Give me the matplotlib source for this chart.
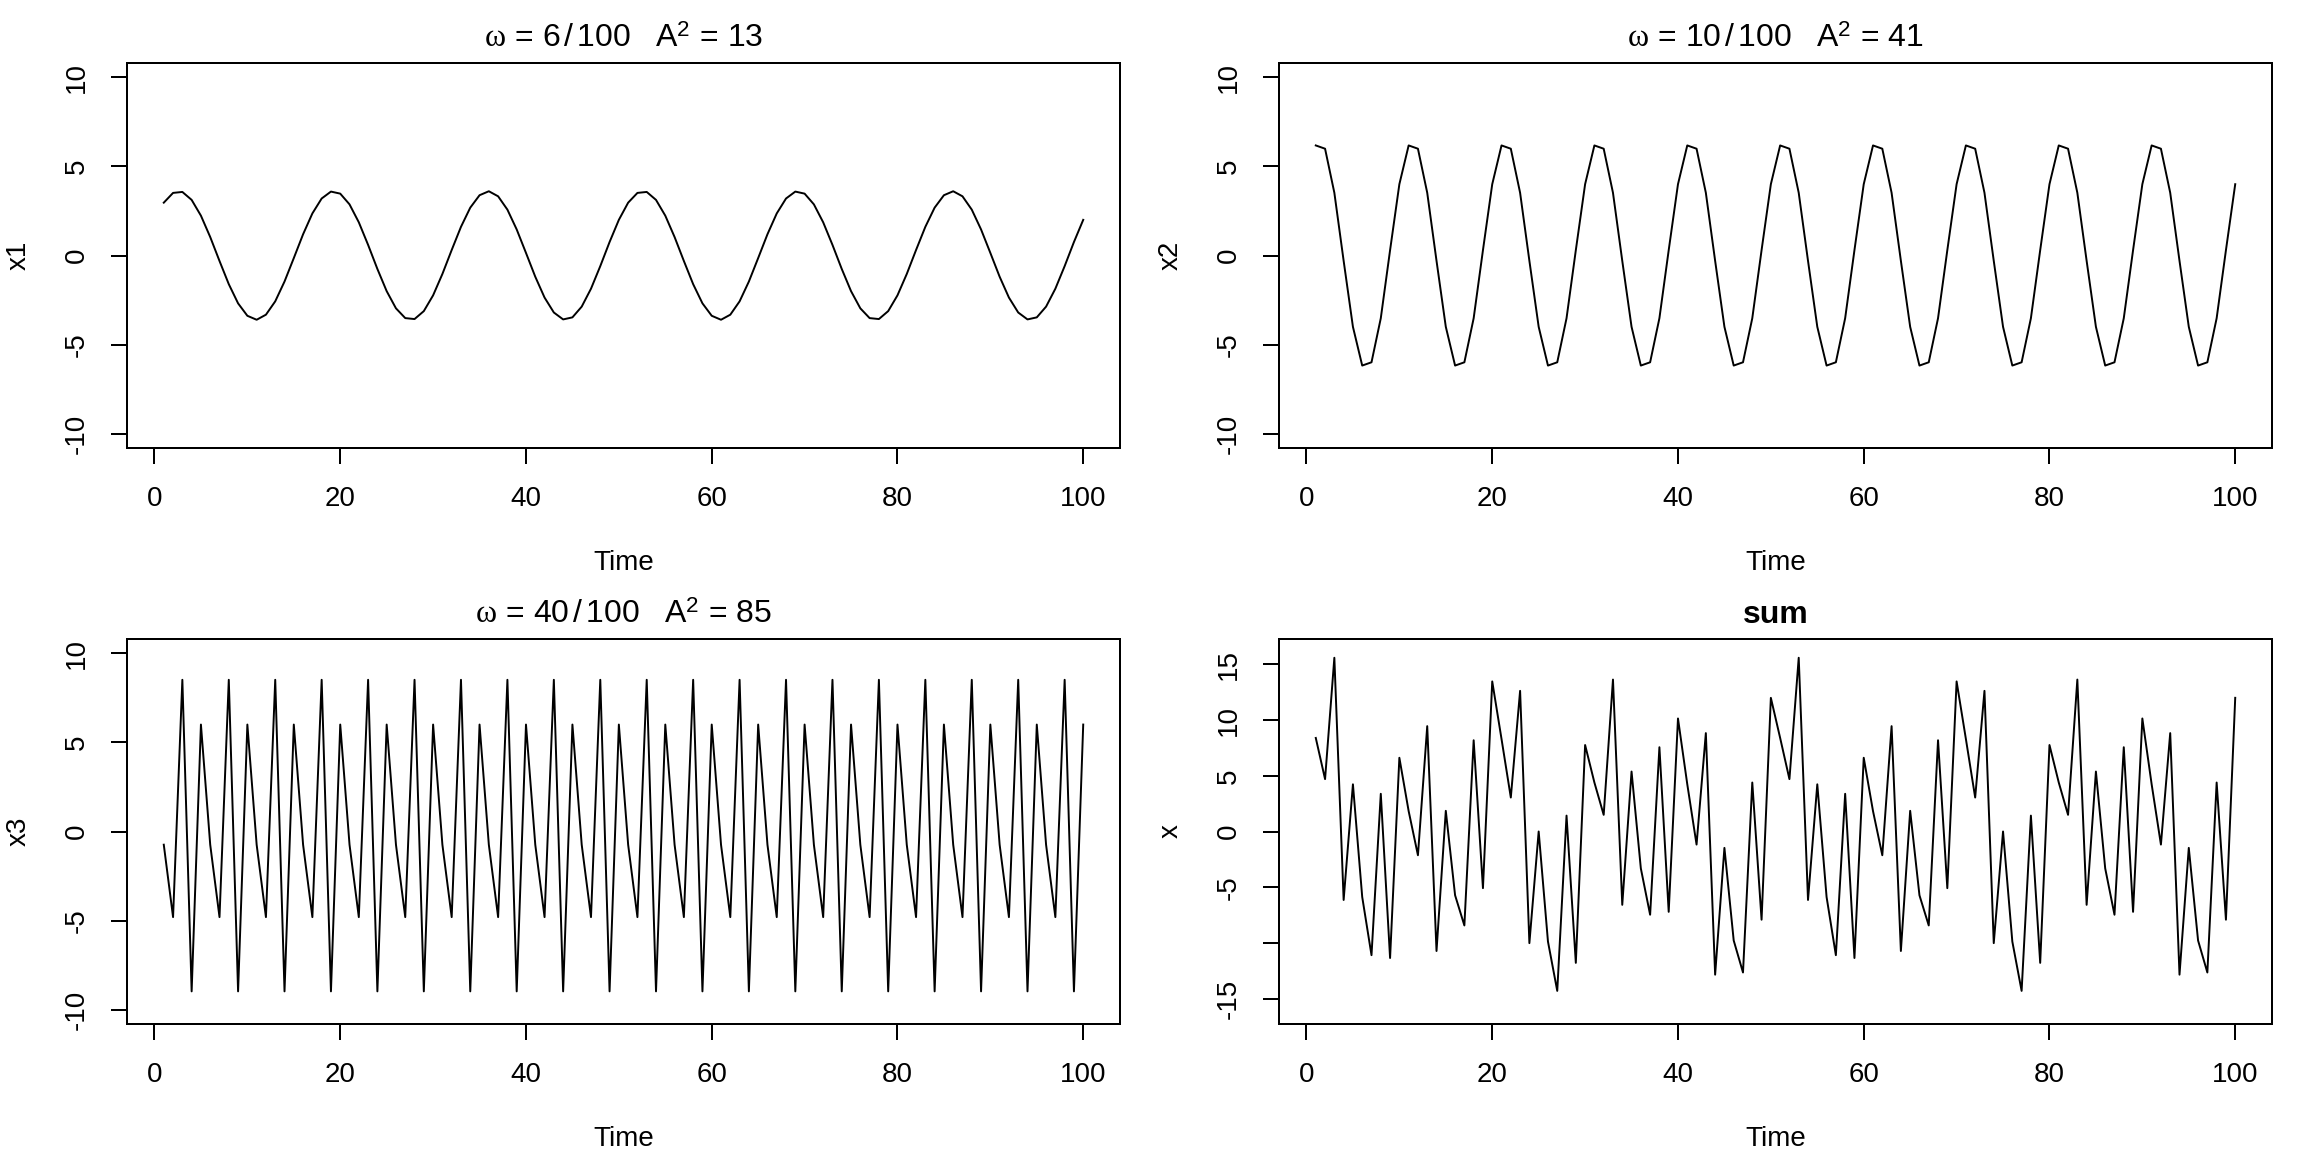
import matplotlib
matplotlib.use('Agg')
import matplotlib.pyplot as plt
import numpy as np

plt.rcParams['font.family'] = ['Liberation Sans', 'DejaVu Sans']
plt.rcParams['axes.unicode_minus'] = False
plt.rcParams['mathtext.fontset'] = 'custom'
plt.rcParams['mathtext.rm'] = 'Liberation Sans'
plt.rcParams['mathtext.it'] = 'Liberation Serif'
plt.rcParams['mathtext.bf'] = 'Liberation Sans:bold'

# ---------------- data ----------------
time = list(range(1, 101))

x1 = [2.964, 3.512, 3.566, 3.120, 2.235, 1.037, -0.307, -1.608, -2.684, -3.382,
      -3.605, -3.321, -2.573, -1.461, -0.145, 1.191, 2.360, 3.198, 3.586, 3.471,
      2.869, 1.863, 0.596, -0.755, -2.000, -2.964, -3.512, -3.566, -3.120, -2.235,
      -1.037, 0.307, 1.608, 2.684, 3.382, 3.605, 3.321, 2.573, 1.461, 0.145,
      -1.191, -2.360, -3.198, -3.586, -3.471, -2.869, -1.863, -0.596, 0.755, 2.000,
      2.964, 3.512, 3.566, 3.120, 2.235, 1.037, -0.307, -1.608, -2.684, -3.382,
      -3.605, -3.321, -2.573, -1.461, -0.145, 1.191, 2.360, 3.198, 3.586, 3.471,
      2.869, 1.863, 0.596, -0.755, -2.000, -2.964, -3.512, -3.566, -3.120, -2.235,
      -1.037, 0.307, 1.608, 2.684, 3.382, 3.605, 3.321, 2.573, 1.461, 0.145,
      -1.191, -2.360, -3.198, -3.586, -3.471, -2.869, -1.863, -0.596, 0.755, 2.000]

x2 = [6.175, 5.991, 3.519, -0.297, -4.000, -6.175, -5.991, -3.519, 0.297, 4.000,
      6.175, 5.991, 3.519, -0.297, -4.000, -6.175, -5.991, -3.519, 0.297, 4.000,
      6.175, 5.991, 3.519, -0.297, -4.000, -6.175, -5.991, -3.519, 0.297, 4.000,
      6.175, 5.991, 3.519, -0.297, -4.000, -6.175, -5.991, -3.519, 0.297, 4.000,
      6.175, 5.991, 3.519, -0.297, -4.000, -6.175, -5.991, -3.519, 0.297, 4.000,
      6.175, 5.991, 3.519, -0.297, -4.000, -6.175, -5.991, -3.519, 0.297, 4.000,
      6.175, 5.991, 3.519, -0.297, -4.000, -6.175, -5.991, -3.519, 0.297, 4.000,
      6.175, 5.991, 3.519, -0.297, -4.000, -6.175, -5.991, -3.519, 0.297, 4.000,
      6.175, 5.991, 3.519, -0.297, -4.000, -6.175, -5.991, -3.519, 0.297, 4.000,
      6.175, 5.991, 3.519, -0.297, -4.000, -6.175, -5.991, -3.519, 0.297, 4.000]

x3 = [-0.740, -4.803, 8.511, -8.969, 6.000, -0.740, -4.803, 8.511, -8.969, 6.000,
      -0.740, -4.803, 8.511, -8.969, 6.000, -0.740, -4.803, 8.511, -8.969, 6.000,
      -0.740, -4.803, 8.511, -8.969, 6.000, -0.740, -4.803, 8.511, -8.969, 6.000,
      -0.740, -4.803, 8.511, -8.969, 6.000, -0.740, -4.803, 8.511, -8.969, 6.000,
      -0.740, -4.803, 8.511, -8.969, 6.000, -0.740, -4.803, 8.511, -8.969, 6.000,
      -0.740, -4.803, 8.511, -8.969, 6.000, -0.740, -4.803, 8.511, -8.969, 6.000,
      -0.740, -4.803, 8.511, -8.969, 6.000, -0.740, -4.803, 8.511, -8.969, 6.000,
      -0.740, -4.803, 8.511, -8.969, 6.000, -0.740, -4.803, 8.511, -8.969, 6.000,
      -0.740, -4.803, 8.511, -8.969, 6.000, -0.740, -4.803, 8.511, -8.969, 6.000,
      -0.740, -4.803, 8.511, -8.969, 6.000, -0.740, -4.803, 8.511, -8.969, 6.000]

x = [8.399, 4.700, 15.596, -6.146, 4.235, -5.878, -11.101, 3.384, -11.356, 6.618,
     1.830, -2.133, 9.457, -10.727, 1.855, -5.724, -8.434, 8.190, -5.086, 13.471,
     8.304, 3.051, 12.626, -10.021, 0.000, -9.879, -14.306, 1.426, -11.792, 7.765,
     4.398, 1.495, 13.638, -6.582, 5.382, -3.310, -7.473, 7.565, -7.211, 10.145,
     4.244, -1.172, 8.832, -12.852, -1.471, -9.784, -12.657, 4.396, -7.917, 12.000,
     8.399, 4.700, 15.596, -6.146, 4.235, -5.878, -11.101, 3.384, -11.356, 6.618,
     1.830, -2.133, 9.457, -10.727, 1.855, -5.724, -8.434, 8.190, -5.086, 13.471,
     8.304, 3.051, 12.626, -10.021, 0.000, -9.879, -14.306, 1.426, -11.792, 7.765,
     4.398, 1.495, 13.638, -6.582, 5.382, -3.310, -7.473, 7.565, -7.211, 10.145,
     4.244, -1.172, 8.832, -12.852, -1.471, -9.784, -12.657, 4.396, -7.917, 12.000]

xticks = [0, 20, 40, 60, 80, 100]
yticks_small = [-10, -5, 0, 5, 10]
yticklabels_small = ['-10', '-5', '0', '5', '10']
yticks_sum = [-15, -10, -5, 0, 5, 10, 15]
yticklabels_sum = ['-15', '', '-5', '0', '5', '10', '15']

titles = [r'$\omega\,=\,6\,/\,100\quad\mathrm{A}^{2}\,=\,13$',
          r'$\omega\,=\,10\,/\,100\quad\mathrm{A}^{2}\,=\,41$',
          r'$\omega\,=\,40\,/\,100\quad\mathrm{A}^{2}\,=\,85$',
          'sum']
ylabels = ['x1', 'x2', 'x3', 'x']

# ---------------- layout ----------------
W, H = 2304, 1152
fig = plt.figure(figsize=(W / 100, H / 100), dpi=100)
fig.patch.set_facecolor('white')

ax_w, ax_h = 993, 385
positions = [(127, 63), (1279, 63), (127, 639), (1279, 639)]
series = [x1, x2, x3, x]
ylims = [(-10.8, 10.8), (-10.8, 10.8), (-10.8, 10.8), (-17.28, 17.28)]
ytick_sets = [(yticks_small, yticklabels_small)] * 3 + [(yticks_sum, yticklabels_sum)]

for i in range(4):
    lp, tp = positions[i]
    ax = fig.add_axes([lp / W, (H - tp - ax_h) / H, ax_w / W, ax_h / H])
    ax.plot(time, series[i], color='black', lw=1.4)
    ax.set_xlim(-2.96, 103.96)
    ax.set_ylim(*ylims[i])
    ax.set_xticks(xticks)
    ax.set_xticklabels([str(v) for v in xticks])
    yt, ytl = ytick_sets[i]
    ax.set_yticks(yt)
    ax.set_yticklabels(ytl)
    ax.tick_params(direction='out', length=11.5, width=1.44, labelsize=20, pad=15.5,
                   colors='black')
    ax.tick_params(axis='y', labelrotation=90)
    for lab in ax.get_yticklabels():
        lab.set_va('center')
    for s in ax.spines.values():
        s.set_linewidth(1.44)
        s.set_color('black')
    if i == 3:
        ax.set_title(titles[i], fontsize=23, fontweight='bold', pad=11.5)
    else:
        ax.set_title(titles[i], fontsize=23, pad=11.5)
    ax.text(0.5, -122 / ax_h, 'Time', transform=ax.transAxes, ha='center',
            va='baseline', fontsize=20)
    ax.text(-108 / ax_w, 0.5, ylabels[i], transform=ax.transAxes, rotation=90,
            ha='center', va='center', fontsize=20)

fig.savefig('out.png', dpi=100, facecolor='white')
